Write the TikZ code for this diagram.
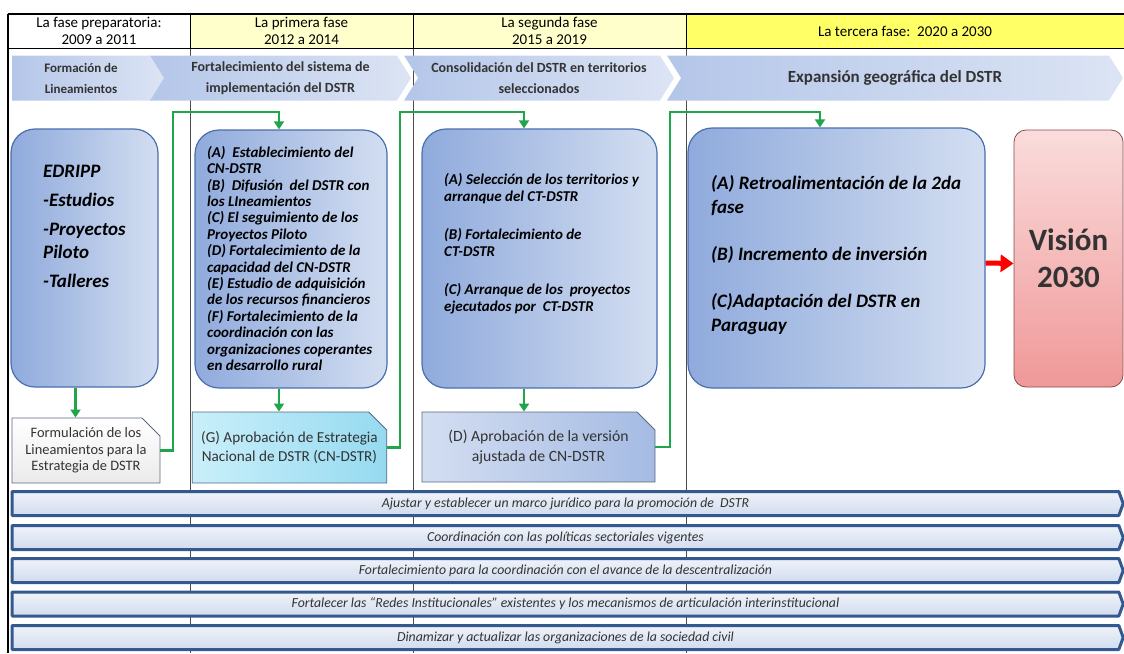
\documentclass[tikz,border=0pt]{standalone}
\usepackage{fontspec}
\setmainfont{Carlito}
\usetikzlibrary{shapes.symbols,shapes.misc,arrows.meta}

\definecolor{hdrlight}{HTML}{FFFFCC}
\definecolor{hdrbright}{HTML}{FFFF66}
\definecolor{chevl}{HTML}{B4C6E9}
\definecolor{chevr}{HTML}{DCE4F4}
\definecolor{boxl}{HTML}{8FAADC}
\definecolor{boxr}{HTML}{D3DEF1}
\definecolor{boxline}{HTML}{4A6FAE}
\definecolor{linegreen}{HTML}{20A64A}
\definecolor{barline}{HTML}{34598F}
\definecolor{barfill}{HTML}{D2DCEF}
\definecolor{visiontop}{HTML}{FADCDC}
\definecolor{visionbot}{HTML}{F09898}
\definecolor{visionline}{HTML}{8B4A4A}
\definecolor{snipline}{HTML}{5A6A80}
\definecolor{cyanl}{HTML}{C9EFFA}
\definecolor{cyanr}{HTML}{96DAF0}
\definecolor{txtgray}{HTML}{333333}

\begin{document}
\begin{tikzpicture}[x=1pt,y=-1pt,
	hdr/.style={draw=black,line width=0.8pt,minimum height=34pt,inner sep=0pt,align=center,font=\fontsize{15}{17}\selectfont},
	chev/.style={signal,signal to=east,signal from=west,signal pointer angle=116,left color=chevl,right color=chevr,minimum height=45pt,inner sep=0pt,align=center,text=txtgray,font=\fontsize{14}{21}\selectfont\bfseries},
	phase/.style={draw=boxline,line width=1.2pt,rounded corners=24pt,left color=boxl,right color=boxr},
	phasetext/.style={anchor=north west,inner sep=0pt,align=left,text=black},
	snip/.style={chamfered rectangle,chamfered rectangle corners=north east,chamfered rectangle xsep=9pt,chamfered rectangle ysep=9pt,draw=snipline,line width=0.9pt,inner sep=0pt,align=center,text=txtgray},
	strip/.style={signal,signal to=east,signal from=nowhere,signal pointer angle=140,line join=round,draw=barline,line width=3pt,top color=barfill!35!white,bottom color=barfill,minimum width=1111pt,minimum height=24pt,inner sep=0pt,text=txtgray,font=\fontsize{13.8}{15}\selectfont\itshape},
	garrow/.style={draw=linegreen,line width=2.6pt,-{Triangle[length=8pt,width=10pt]}},
	divider/.style={draw=black!70,line width=0.7pt}]
	\useasboundingbox (0,0) rectangle (1124,653);
	\draw[divider](190,48)--(190,653);
	\draw[divider](413,48)--(413,653);
	\draw[divider](686,48)--(686,653);
	\draw[line width=1.2pt](8,14)--(8,653);
	\node[hdr,fill=white,minimum width=182pt] (h1) at (99,31) {La fase preparatoria:\\2009 a 2011};
	\node[hdr,fill=hdrlight,minimum width=223pt] (h2) at (301.5,31) {La primera fase\\2012 a 2014};
	\node[hdr,fill=hdrlight,minimum width=273pt] (h3) at (549.5,31) {La segunda fase\\2015 a 2019};
	\node[hdr,fill=hdrbright,minimum width=438pt] (h4) at (905,31) {La tercera fase:~~2020 a 2030};
	\draw[line width=1.6pt](h1.north west)--(h4.north east);
	\node[chev,signal from=nowhere,minimum width=152pt,font=\fontsize{13}{21}\selectfont\bfseries] (s1) at (81,78) {Formación de\\Lineamientos};
	\node[chev,minimum width=261pt] (s2) at (280.5,78) {Fortalecimiento del sistema de\\implementación del DSTR};
	\node[chev,minimum width=270pt] (s3) at (539,78) {Consolidación del DSTR en territorios\\seleccionados};
	\node[chev,minimum width=456pt,font=\fontsize{17}{18}\selectfont\bfseries] (s4) at (895,78) {Expansión geográfica del DSTR};
	\node[phase,minimum width=147pt,minimum height=258pt] (edripp) at (84.5,258) {};
	\node[phase,minimum width=192pt,minimum height=258pt] (estab) at (291,259) {};
	\node[phase,minimum width=235pt,minimum height=259pt] (selec) at (539.5,258.5) {};
	\node[phase,minimum width=297pt,minimum height=260pt] (retro) at (836.5,258) {};
	\node[draw=visionline,line width=0.8pt,rounded corners=12pt,top color=visiontop,bottom color=visionbot,minimum width=109pt,minimum height=257pt,align=center,text=txtgray,font=\fontsize{31}{37}\selectfont\bfseries] (vision) at (1068.5,258.5) {Visión\\2030};
	\node[phasetext,font=\fontsize{19}{23}\selectfont\bfseries\itshape] (edrippt) at (43,165) {EDRIPP\\[6pt]-Estudios\\[6pt]-Proyectos\\Piloto\\[6pt]-Talleres};
	\node[phasetext,font=\fontsize{15}{16.4}\selectfont\bfseries\itshape] (estabt) at (207,146) {(A)~ Establecimiento del\\CN-DSTR\\(B)~ Difusión~ del DSTR con\\los LIneamientos\\(C) El seguimiento de los\\Proyectos Piloto\\(D) Fortalecimiento de la\\capacidad del CN-DSTR\\(E) Estudio de adquisición\\de los recursos financieros\\(F) Fortalecimiento de la\\coordinación con las\\organizaciones coperantes\\en desarrollo rural};
	\node[phasetext,font=\fontsize{15}{17}\selectfont\bfseries\itshape] (select) at (444,173) {(A) Selección de los territorios y\\arranque del CT-DSTR\\[21pt](B) Fortalecimiento de\\CT-DSTR\\[21pt](C) Arranque de los~ proyectos\\ejecutados por~ CT-DSTR};
	\node[phasetext,font=\fontsize{19}{24}\selectfont\bfseries\itshape] (retrot) at (711,175) {(A) Retroalimentación de la 2da\\fase\\[23pt](B) Incremento de inversión\\[23pt](C)Adaptación del DSTR en\\Paraguay};
	\node[snip,top color=white,bottom color=black!8,minimum width=148pt,minimum height=65pt,font=\fontsize{14.4}{16.5}\selectfont] (form) at (86,450.5) {Formulación de los\\Lineamientos para la\\Estrategia de DSTR};
	\node[snip,left color=cyanl,right color=cyanr,minimum width=189pt,minimum height=71pt,font=\fontsize{15.2}{19}\selectfont] (aprob) at (289.5,447.5) {(G) Aprobación de Estrategia\\Nacional de DSTR (CN-DSTR)};
	\node[snip,left color=boxr,right color=boxl!80!white,minimum width=233pt,minimum height=70pt,font=\fontsize{15.7}{20}\selectfont] (ajust) at (538.5,447) {(D) Aprobación de la versión\\ajustada de CN-DSTR};
	\coordinate (c1) at (173,112);
	\coordinate (c2) at (400,112);
	\coordinate (c3) at (670,112);
	\draw[garrow]([xshift=-9pt]edripp.south)--([xshift=-9pt]edripp.south |- form.north);
	\draw[garrow]([xshift=-12pt]estab.south)--([xshift=-12pt]estab.south |- aprob.north);
	\draw[garrow]([xshift=-15.5pt]selec.south)--([xshift=-15.5pt]selec.south |- ajust.north);
	\draw[garrow](form.east)-|(c1)-|([xshift=-12pt]estab.north);
	\draw[garrow](aprob.east)-|(c2)-|([xshift=-15.5pt]selec.north);
	\draw[garrow](ajust.east)-|(c3)-|([xshift=-16.5pt]retro.north);
	\draw[red,line width=5pt,-{Triangle[length=13pt,width=17pt]}]([yshift=-5pt]retro.east)--([yshift=-5pt]vision.west);
	\node[strip] (b1) at (565.5,503.5) {Ajustar y establecer un marco jurídico para la promoción de~ DSTR};
	\node[strip] (b2) at (565.5,537.5) {Coordinación con las políticas sectoriales vigentes};
	\node[strip] (b3) at (565.5,570.5) {Fortalecimiento para la coordinación con el avance de la descentralización};
	\node[strip] (b4) at (565.5,604) {Fortalecer las “Redes Institucionales” existentes y los mecanismos de articulación interinstitucional};
	\node[strip] (b5) at (565.5,637.5) {Dinamizar y actualizar las organizaciones de la sociedad civil};
\end{tikzpicture}
\end{document}
